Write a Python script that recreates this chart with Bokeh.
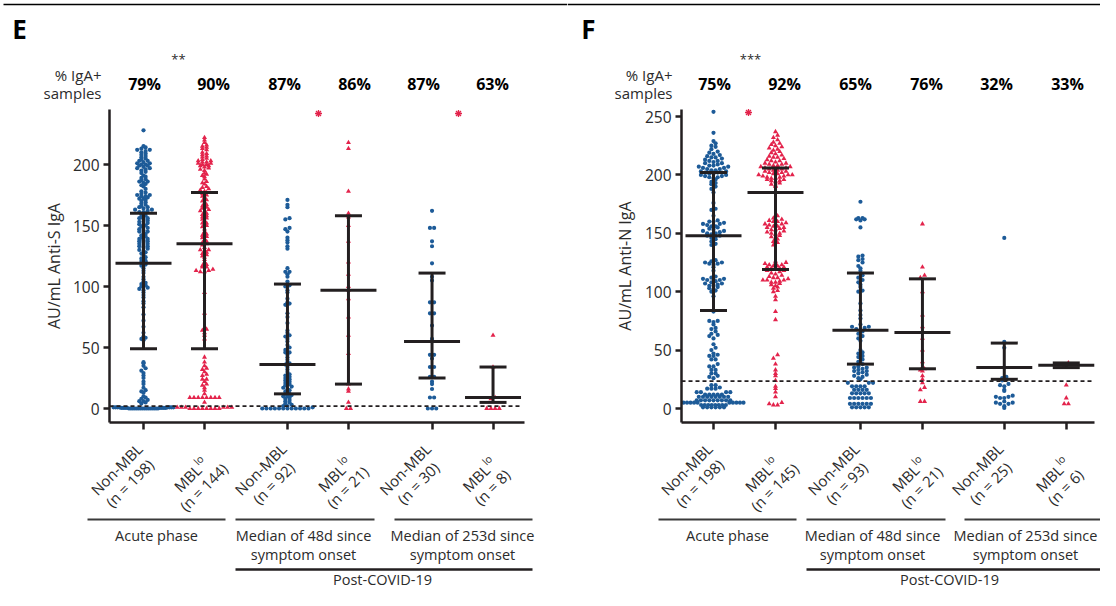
import math
from bokeh.plotting import figure
from bokeh.models import Range1d, FixedTicker
from bokeh.layouts import row
from bokeh.core.properties import value
from bokeh.embed import file_html
from bokeh.resources import INLINE

FONT = "Open Sans"
INK = "#231f20"
TXT = "#2b2b2b"
BLUE = "#1d5b98"
RED = "#e3234b"

# ------------------------------------------------------------------ data
kinds = ["non", "mbl", "non", "mbl", "non", "mbl"]
group_names = [["Acute phase"], ["Median of 48d since", "symptom onset"], ["Median of 253d since", "symptom onset"]]
super_group = "Post-COVID-19"

# Panel E : anti-S IgA
E_n = [198, 144, 92, 21, 30, 8]
E_pct = ["79%", "90%", "87%", "86%", "87%", "63%"]
E_median = [119, 135, 36, 97, 55, 9]
E_q1 = [49, 49, 12, 20, 25, 5]
E_q3 = [160, 177, 102, 158, 111, 34]
E_cutoff = 2
E_yticks = [0, 50, 100, 150, 200]

E_nonmbl_acute = [
    0, 0, 0, 0, 0, 0, 0, 0, 0, 0, 0, 0, 0, 0, 0, 0, 0.5, 0.5, 0.5, 0.5, 0.5, 0.5, 0.5, 0.5,
    1, 1, 1, 1, 1, 1, 1, 1, 4, 5, 6, 6, 7, 8, 9, 10,
    13, 14, 15, 17, 20, 22, 25, 27, 29, 31, 33, 35, 37, 38,
    56, 57, 58, 59, 62, 67, 72, 77, 83, 86, 88, 91, 93, 95, 97, 98, 99, 100, 101, 102, 103, 104, 106, 108,
    111, 113, 115, 117, 118, 119, 120, 121, 121, 123, 124, 126, 127, 128, 129, 130, 131, 132, 133, 134,
    135, 136, 137, 138, 139, 139, 140, 141, 142, 143, 144, 145, 147, 148, 149, 150, 151, 152, 153, 153,
    154, 155, 156, 157, 158, 159, 160, 161, 162, 163, 164, 165, 166, 167, 168, 169, 170, 171, 172, 173,
    174, 175, 175, 176, 178, 180, 182, 184, 185, 186, 187, 188, 189, 190, 191, 193, 195, 196, 197, 198,
    199, 200, 200, 201, 202, 203, 204, 205, 207, 209, 210, 211, 212, 213, 214, 228,
    133, 135, 137, 145, 146, 151, 156, 161, 163, 165, 172, 174, 177, 183, 186, 194, 197, 199, 201, 203,
    206, 208, 212, 215]
E_mbl_acute = [
    0, 0, 0, 0, 0, 0, 0, 0, 1, 1, 1, 1, 1, 1,
    9, 9, 9, 9, 9, 9, 9, 9, 5, 12, 15, 17, 19, 20, 22, 24, 24, 27, 28, 30, 32, 33, 35, 38, 42,
    57, 60, 62, 64, 65, 78, 95,
    112, 112, 113, 113, 114, 116, 116, 117, 120, 122, 125, 126, 127, 128, 129, 130, 130,
    132, 134, 135, 136, 138, 140, 141, 143, 145, 147, 149, 150, 152, 152,
    155, 156, 158, 159, 160, 161, 162, 163, 164, 165, 166, 168, 170, 171, 173, 175, 176, 177, 178, 179,
    180, 181, 182, 184, 186, 188, 190, 192, 193, 195, 196, 197, 198, 199, 200, 200, 201, 201, 202, 202,
    203, 204, 205, 206, 207, 208, 210, 212, 213, 214, 216, 218, 220, 222,
    118, 124, 137, 142, 157, 167, 174, 185, 191, 199, 203, 209, 215]
E_nonmbl_48 = [
    0, 0, 0, 0, 0, 0, 0, 0, 0, 0, 0, 0, 1, 2, 2, 3, 4,
    5, 6, 7, 8, 9, 10, 10, 11, 12, 12,
    14, 15, 16, 17, 18, 19, 20, 21, 22, 23, 24, 25, 26, 28, 30, 32, 34, 36,
    37, 38, 40, 42, 44, 46, 46, 50, 52, 55, 57, 59, 60, 62, 70, 75, 78, 85, 86, 87, 90, 95, 97, 100, 101,
    104, 108, 110, 112, 112, 115, 131, 133, 136, 138, 140, 145, 147, 148, 155, 156, 165, 167, 171,
    27, 48, 64]
E_mbl_48 = [218, 213, 178, 160, 157, 150, 137, 120, 110, 100, 97, 90, 75, 60, 45, 20, 16, 14, 5, 0, 0]
E_nonmbl_253 = [162, 148, 148, 137, 133, 119, 108, 105, 87, 87, 78, 78, 68, 57, 55, 44, 44, 41, 34, 34,
                26, 26, 22, 20, 16, 9, 9, 0, 0, 0]
E_mbl_253 = [60, 34, 9, 8, 0, 0, 0, 0]

# Panel F : anti-N IgA
F_n = [198, 145, 93, 21, 25, 6]
F_pct = ["75%", "92%", "65%", "76%", "32%", "33%"]
F_median = [148, 185, 67, 65, 35, 37]
F_q1 = [84, 119, 38, 34, 25, 35]
F_q3 = [202, 206, 116, 111, 56, 39]
F_cutoff = 23.5
F_yticks = [0, 50, 100, 150, 200, 250]

F_nonmbl_acute = [
    1, 1, 1, 1, 1, 1, 3, 3, 3, 3, 3, 3, 3, 3, 5, 5, 5, 5, 5, 5, 5, 5, 5, 5,
    7, 7, 7, 7, 7, 7, 7, 7, 7, 10, 10, 10, 10, 10, 10, 10, 10, 12, 12, 12, 12, 12,
    14, 14, 14, 14, 17, 17, 17, 20, 20,
    26, 28, 30, 30, 33, 33, 36, 36, 38, 42, 42, 45, 45, 47, 50, 52, 55, 27,
    60, 62, 64, 66, 68, 69, 72, 74, 75, 75, 63, 83, 96,
    100, 101, 102, 103, 104, 105, 105, 106, 107, 107, 108, 109, 110, 110, 111, 111, 112, 113,
    121, 123, 124, 124, 125, 125, 126, 127,
    140, 141, 143, 145, 146, 147, 148, 148, 149, 150, 150, 151, 152, 152, 153, 154, 155, 156, 156, 157,
    158, 158, 159, 160, 160, 161, 165, 170, 171, 176, 185, 188,
    190, 192, 193, 194, 196, 197, 198, 198, 199, 199, 200, 200, 201, 201, 202, 202, 202, 203, 203, 204,
    204, 205, 205, 206, 206, 207, 207, 208, 208, 209, 210, 210, 211, 212, 212, 213, 214, 215, 215, 216,
    217, 218, 219, 220, 222, 224, 225, 227, 229, 236, 254, 18, 46, 118]
F_mbl_acute = [
    3, 3, 4, 5, 10, 14, 17, 19, 24, 28, 30, 33, 38, 43, 46, 76, 83, 93,
    100, 101, 103, 104, 105, 106, 107, 108, 108, 109, 110, 110, 111, 112, 113, 114, 115, 116, 117, 118,
    119, 120, 120, 121, 122, 122, 123, 123, 124, 125, 126, 110, 112, 118, 121, 96,
    140, 142, 145, 146, 147, 148, 149, 150, 150, 151, 152, 153, 153, 154, 155, 155, 156, 156, 157, 158,
    158, 159, 160, 160, 161, 162, 163, 165, 143,
    190, 191, 192, 193, 194, 195, 195, 196, 196, 197, 197, 198, 198, 199, 199, 200, 200, 200, 201, 201,
    202, 202, 203, 203, 204, 204, 205, 205, 206, 206, 207, 207, 208, 208, 209, 209, 210, 210, 211, 212,
    212, 213, 214, 215, 215, 216, 217, 218, 219, 220, 221, 222, 223, 224, 225, 226, 227, 228, 230, 232,
    234, 237]
F_nonmbl_48 = [
    1, 1, 1, 1, 1, 4, 4, 4, 4, 4, 4, 9, 9, 9, 9, 9, 9, 13, 13, 13, 13, 13, 16, 16, 16, 16, 19, 19, 19, 19,
    22, 22, 22, 25, 26, 27, 28, 29, 30, 31, 32, 32, 33, 34, 35, 38, 40, 42, 44, 45, 47, 48,
    58, 60, 62, 64, 66, 67, 68, 69, 70, 70, 77, 80, 84, 90, 100, 101, 104, 106, 108, 110,
    118, 120, 122, 125, 127, 128, 130, 131, 155, 161, 162, 162, 163, 163, 177, 36, 50, 72, 112, 114, 35]
F_mbl_48 = [158, 121, 114, 112, 100, 80, 70, 65, 60, 50, 40, 34, 33, 32, 28, 25, 22, 18, 16, 6, 6]
F_nonmbl_253 = [146, 57, 52, 35, 27, 26, 25, 24, 21, 20, 19, 16, 15, 11, 10, 10, 9, 9, 6, 5, 5, 4, 4, 2, 0.5]
F_mbl_253 = [39, 37, 20, 9, 4, 4]

E_series = [E_nonmbl_acute, E_mbl_acute, E_nonmbl_48, E_mbl_48, E_nonmbl_253, E_mbl_253]
F_series = [F_nonmbl_acute, F_mbl_acute, F_nonmbl_48, F_mbl_48, F_nonmbl_253, F_mbl_253]

# ------------------------------------------------------------------ layout (page pixels)
FIG_TOP, FIG_H = 8, 590
AX_TOP, AX_BOT = 117, 429.6

E_layout = dict(letter="E", sig="**", ylabel="AU/mL Anti-S IgA", ylabel_standoff=5,
                left=8, width=567, x1=151, ppx=61, y0=416, ppu=1.22,
                ax_l=117, ax_r=532, pos=[1, 2, 3.36, 4.36, 5.73, 6.73],
                pct_px=[152, 221, 292, 362, 431, 500], letter_px=27, sig_px=186, igA_px=109,
                star_px=[326, 466], star_py=121,
                grp_lines=[(95, 233), (243, 382), (402, 540)], grp_text=[164, 311, 470],
                post_line=(243, 540), post_text=390)
F_layout = dict(letter="F", sig="***", ylabel="AU/mL Anti-N IgA", ylabel_standoff=6,
                left=575, width=533, x1=721, ppx=62, y0=416, ppu=1.168,
                ax_l=689, ax_r=1102, pos=[1, 2, 3.37, 4.37, 5.69, 6.69],
                pct_px=[722, 792, 863, 934, 1004, 1075], letter_px=596, sig_px=758, igA_px=680,
                star_px=[756], star_py=120,
                grp_lines=[(666, 804), (814, 953), (972, 1108)], grp_text=[735, 880, 1033],
                post_line=(814, 1108), post_text=957)


def swarm_offsets(vals, ppu, h, w, maxw):
    bins = {}
    for i, v in enumerate(vals):
        bins.setdefault(int(round(v * ppu / h)), []).append(i)
    offs = [0.0] * len(vals)
    for idx in bins.values():
        idx = sorted(idx, key=lambda i: vals[i])
        k = len(idx)
        s = w if k < 2 else min(w, maxw / (k - 1))
        slots = sorted(range(k), key=lambda j: (abs(j - (k - 1) / 2), j))
        for i, j in zip(idx, slots):
            offs[i] = (j - (k - 1) / 2) * s
    return offs


def make_panel(L, series, n, pct, med, q1, q3, cutoff, yticks, bin_h):
    X1, PPX, Y0, PPU = L["x1"], L["ppx"], L["y0"], L["ppu"]

    def px2x(px):
        return 1 + (px - X1) / PPX

    def py2y(py):
        return (Y0 - py) / PPU

    p = figure(width=L["width"], height=FIG_H, output_backend="svg", toolbar_location=None,
               x_range=Range1d(px2x(L["left"]), px2x(L["left"] + L["width"])),
               y_range=Range1d(py2y(FIG_TOP + FIG_H), py2y(FIG_TOP)), min_border=0)
    p.title.visible = False
    p.outline_line_color = None
    p.xgrid.visible = False
    p.ygrid.visible = False
    p.background_fill_color = "white"
    p.border_fill_color = "white"

    def txt(x, y, s, size, align="center", baseline="middle", style="normal", color=TXT, angle=0.0):
        p.text(x=[x], y=[y], text=[s], text_font=value(FONT), text_font_size=value(f"{size}px"),
               text_align=align, text_baseline=baseline, text_font_style=style, text_color=color,
               angle=angle)

    # axes
    ya = p.yaxis[0]
    ya.fixed_location = px2x(L["ax_l"])
    ya.bounds = (py2y(AX_BOT), py2y(AX_TOP))
    ya.ticker = FixedTicker(ticks=yticks)
    ya.axis_line_width = 2.5
    ya.axis_line_color = INK
    ya.major_tick_line_width = 2.5
    ya.major_tick_line_color = INK
    ya.major_tick_out = 6
    ya.major_tick_in = 0
    ya.minor_tick_line_color = None
    ya.major_label_text_font = FONT
    ya.major_label_text_font_size = "15.5px"
    ya.major_label_text_color = TXT
    ya.major_label_standoff = 4
    ya.axis_label = L["ylabel"]
    ya.axis_label_text_font = FONT
    ya.axis_label_text_font_size = "16px"
    ya.axis_label_text_font_style = "normal"
    ya.axis_label_text_color = TXT
    ya.axis_label_standoff = L["ylabel_standoff"]

    # category ticks as (label-less) minor ticks
    xa = p.xaxis[0]
    xa.fixed_location = py2y(AX_BOT)
    xa.bounds = (px2x(L["ax_l"]), px2x(L["ax_r"]))
    xa.ticker = FixedTicker(ticks=[], minor_ticks=L["pos"])
    xa.axis_line_width = 2.5
    xa.axis_line_color = INK
    xa.major_tick_line_color = None
    xa.minor_tick_line_width = 2.5
    xa.minor_tick_line_color = INK
    xa.minor_tick_out = 7
    xa.minor_tick_in = 0

    pos = L["pos"]
    # points
    for i, vals in enumerate(series):
        offs = swarm_offsets(vals, PPU, bin_h, 4.2, 60)
        xs = [pos[i] + o / PPX for o in offs]
        if kinds[i] == "non":
            p.scatter(xs, vals, marker="circle", size=4.2, fill_color=BLUE, line_color=None)
        else:
            p.scatter(xs, vals, marker="triangle", size=5, fill_color=RED, line_color=None)

    # cutoff
    p.segment(x0=[px2x(L["ax_l"])], y0=[cutoff], x1=[px2x(L["ax_r"] - 2)], y1=[cutoff],
              line_color=INK, line_width=1.8, line_dash="4 3")

    # median and interquartile bars
    cw, mw = 13.5 / PPX, 28 / PPX
    p.segment(x0=pos, y0=q1, x1=pos, y1=q3, line_color=INK, line_width=3)
    p.segment(x0=[x - cw for x in pos] * 2, y0=q1 + q3, x1=[x + cw for x in pos] * 2, y1=q1 + q3,
              line_color=INK, line_width=3)
    p.segment(x0=[x - mw for x in pos], y0=med, x1=[x + mw for x in pos], y1=med,
              line_color=INK, line_width=3)

    # header texts
    p.segment(x0=[px2x(max(L["left"], 11))], y0=[py2y(12)], x1=[px2x(L["left"] + L["width"])], y1=[py2y(12)],
              line_color="black", line_width=1.5)
    txt(px2x(L["letter_px"]), py2y(36), L["letter"], 26, style="bold", color="black")
    txt(px2x(L["sig_px"]), py2y(66), L["sig"], 13)
    txt(px2x(L["igA_px"]), py2y(82), "% IgA+", 15, align="right")
    txt(px2x(L["igA_px"]), py2y(100), "samples", 15, align="right")
    for xp, s in zip(L["pct_px"], pct):
        txt(px2x(xp), py2y(91), s, 16, style="bold", color="black")
    p.scatter([px2x(x) for x in L["star_px"]], [py2y(L["star_py"])] * len(L["star_px"]),
              marker="asterisk", size=7, line_color=RED, line_width=1.3)

    # rotated category labels
    ang = math.pi / 4
    yb = AX_BOT
    for i, k in enumerate(kinds):
        x = pos[i]
        if k == "non":
            txt(x + (-27) / PPX, py2y(yb + 47), "Non-MBL", 15, angle=ang)
            txt(x + (-14) / PPX, py2y(yb + 61), f"(n = {n[i]})", 15, angle=ang)
        else:
            txt(x + (-17) / PPX, py2y(yb + 56), "MBL", 15, angle=ang)
            txt(x + (-6) / PPX, py2y(yb + 38), "lo", 10.5, angle=ang)
            txt(x + (-1) / PPX, py2y(yb + 65), f"(n = {n[i]})", 15, angle=ang)

    # group labels
    for (a, b), xc, lines in zip(L["grp_lines"], L["grp_text"], group_names):
        p.segment(x0=[px2x(a)], y0=[py2y(527)], x1=[px2x(b)], y1=[py2y(527)], line_color="#3a3a3a", line_width=2)
        for j, s in enumerate(lines):
            txt(px2x(xc), py2y(543 + 19 * j), s, 14.5)
    a, b = L["post_line"]
    p.segment(x0=[px2x(a)], y0=[py2y(577)], x1=[px2x(b)], y1=[py2y(577)], line_color=INK, line_width=2.5)
    txt(px2x(L["post_text"]), py2y(587), super_group, 14.5)
    return p


pE = make_panel(E_layout, E_series, E_n, E_pct, E_median, E_q1, E_q3, E_cutoff, E_yticks, 2.6)
pF = make_panel(F_layout, F_series, F_n, F_pct, F_median, F_q1, F_q3, F_cutoff, F_yticks, 4.0)

layout = row(pE, pF)
open("out.html", "w").write(file_html(layout, INLINE))
